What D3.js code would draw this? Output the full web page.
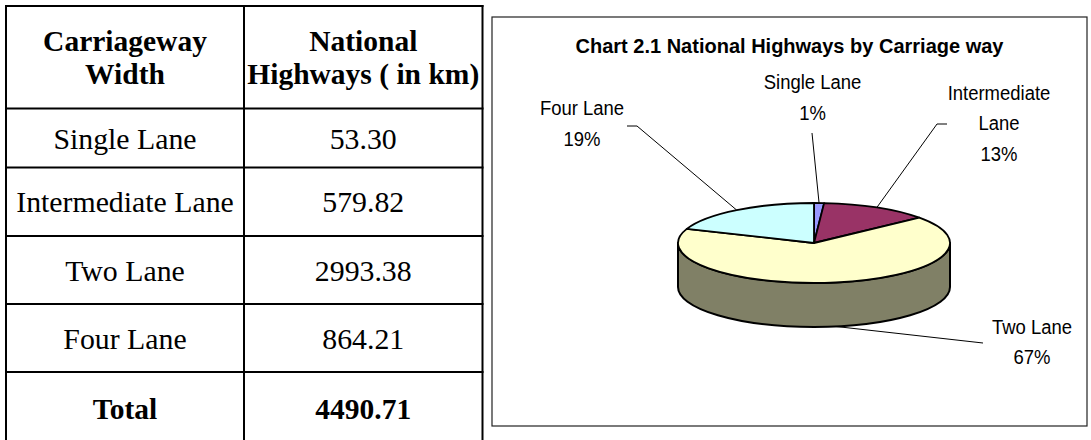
<!DOCTYPE html>
<html>
<head>
<meta charset="utf-8">
<script src="https://cdn.jsdelivr.net/npm/d3@7"></script>
<style>
  html, body { margin: 0; padding: 0; background: #fff; }
  svg { display: block; }
</style>
</head>
<body>
<svg id="chart" width="1091" height="440"></svg>
<script>
// ---------- DATA ----------
const categories = ["Single Lane", "Intermediate Lane", "Two Lane", "Four Lane"];
const lengthsKm = [53.30, 579.82, 2993.38, 864.21];
const totalKm = 4490.71;
const sliceColors = ["#9999FF", "#993366", "#FFFFCC", "#CCFFFF"];
const headerCol1 = ["Carriageway", "Width"];
const headerCol2 = ["National", "Highways ( in km)"];
const totalLabel = "Total";
const chartTitle = "Chart 2.1 National Highways by Carriage way";

// ---------- SETUP ----------
const svg = d3.select("#chart");
svg.append("rect").attr("width", 1091).attr("height", 440).attr("fill", "#fff");

// ---------- TABLE ----------
const serif = "'Liberation Serif', 'Times New Roman', serif";
const colX = [6, 244, 482.5];
const rowY = [6, 108.5, 167.5, 236, 304, 372, 444];
const colCenter = [(colX[0] + colX[1]) / 2, (colX[1] + colX[2]) / 2];
const tbl = svg.append("g");
const fmt2 = d3.format(".2f");

// header
[headerCol1, headerCol2].forEach((lines, ci) => {
  const cy = (rowY[0] + rowY[1]) / 2;
  lines.forEach((t, li) => {
    tbl.append("text")
      .attr("x", colCenter[ci]).attr("y", cy + (li === 0 ? -16.5 : 16.5))
      .attr("dy", "0.35em").attr("text-anchor", "middle")
      .attr("font-family", serif).attr("font-size", 29.5).attr("font-weight", "bold")
      .text(t);
  });
});
// body rows
categories.forEach((c, i) => {
  const cy = (rowY[i + 1] + rowY[i + 2]) / 2;
  [c, fmt2(lengthsKm[i])].forEach((t, ci) => {
    tbl.append("text")
      .attr("x", colCenter[ci]).attr("y", cy).attr("dy", "0.36em")
      .attr("text-anchor", "middle")
      .attr("font-family", serif).attr("font-size", 29.8)
      .text(t);
  });
});
// total row
{
  const cy = (rowY[5] + rowY[6]) / 2;
  [totalLabel, fmt2(totalKm)].forEach((t, ci) => {
    tbl.append("text")
      .attr("x", colCenter[ci]).attr("y", cy).attr("dy", "0.36em")
      .attr("text-anchor", "middle")
      .attr("font-family", serif).attr("font-size", 29.5).attr("font-weight", "bold")
      .text(t);
  });
}
// grid lines
rowY.slice(0, 6).forEach(y => {
  tbl.append("line").attr("x1", colX[0] - 1).attr("x2", colX[2] + 1)
    .attr("y1", y).attr("y2", y).attr("stroke", "#000").attr("stroke-width", 2);
});
colX.forEach(x => {
  tbl.append("line").attr("x1", x).attr("x2", x)
    .attr("y1", rowY[0] - 1).attr("y2", 440).attr("stroke", "#000").attr("stroke-width", 2);
});

// ---------- CHART BOX ----------
svg.append("rect").attr("x", 492).attr("y", 17).attr("width", 595).attr("height", 409)
  .attr("fill", "none").attr("stroke", "#222").attr("stroke-width", 1.2);

const sans = "'Liberation Sans', Arial, sans-serif";
svg.append("text").attr("x", 789.5).attr("y", 52.5).attr("text-anchor", "middle")
  .attr("font-family", sans).attr("font-size", 20).attr("font-weight", "bold")
  .text(chartTitle);

// ---------- 3D PIE ----------
const cx = 814, cy = 243, rx = 136, ry = 40, depth = 44;
const data = categories.map((c, i) => ({ c, v: lengthsKm[i] }));
const sumV = d3.sum(lengthsKm);
const pie = d3.pie().sort(null).value(d => d.v).startAngle(0).endAngle(2 * Math.PI);
const arcs = pie(data);
const color = d3.scaleOrdinal().domain(categories).range(sliceColors);
const pct = d3.format(".0%");

const proj = (a, dy = 0) => [cx + rx * Math.sin(a), cy - ry * Math.cos(a) + dy];

const pieG = svg.append("g");

// side walls (front-facing portion: angles PI/2 .. 3PI/2)
arcs.forEach(d => {
  const s0 = Math.max(d.startAngle, Math.PI / 2);
  const s1 = Math.min(d.endAngle, 3 * Math.PI / 2);
  if (s1 <= s0) return;
  const p0 = proj(s0), p1 = proj(s1), q1 = proj(s1, depth), q0 = proj(s0, depth);
  const large = (s1 - s0) > Math.PI ? 1 : 0;
  const path = `M${p0}A${rx},${ry} 0 ${large} 1 ${p1}L${q1}A${rx},${ry} 0 ${large} 0 ${q0}Z`;
  const base = d3.rgb(color(d.data.c));
  const dark = d3.rgb(base.r * 0.5, base.g * 0.5, base.b * 0.5);
  pieG.append("path").attr("d", path).attr("fill", dark)
    .attr("stroke", "#000").attr("stroke-width", 2).attr("stroke-linejoin", "round");
});

// top faces
arcs.forEach(d => {
  const p0 = proj(d.startAngle), p1 = proj(d.endAngle);
  const large = (d.endAngle - d.startAngle) > Math.PI ? 1 : 0;
  const path = `M${cx},${cy}L${p0}A${rx},${ry} 0 ${large} 1 ${p1}Z`;
  pieG.append("path").attr("d", path).attr("fill", color(d.data.c))
    .attr("stroke", "#000").attr("stroke-width", 1.8).attr("stroke-linejoin", "round");
});

// ---------- LABELS & LEADERS ----------
const labelLayout = {
  "Single Lane":       { x: 812.5, y: 89,    wrap: false, leader: [[812, 133]] },
  "Intermediate Lane": { x: 999,   y: 99.5,  wrap: true,  leader: [[947, 124], [937, 124]] },
  "Two Lane":          { x: 1032,  y: 333.5, wrap: false, leader: [[983, 343]] },
  "Four Lane":         { x: 582,   y: 115,   wrap: false, leader: [[627, 126], [637, 126]] }
};
const lineH = 30.5;

arcs.forEach(d => {
  const L = labelLayout[d.data.c];
  const mid = (d.startAngle + d.endAngle) / 2;
  const front = Math.cos(mid) < 0;
  const end = proj(mid, front ? depth : 0);
  const pts = L.leader.concat([end]);
  svg.append("path").attr("d", d3.line()(pts))
    .attr("fill", "none").attr("stroke", "#000").attr("stroke-width", 1);

  const lines = (L.wrap ? d.data.c.split(" ") : [d.data.c]).concat([pct(d.data.v / sumV)]);
  lines.forEach((t, i) => {
    svg.append("text")
      .attr("transform", `translate(${L.x},${L.y + i * lineH}) scale(0.88,1)`)
      .attr("text-anchor", "middle")
      .attr("font-family", sans).attr("font-size", 21)
      .text(t);
  });
});
</script>
</body>
</html>
